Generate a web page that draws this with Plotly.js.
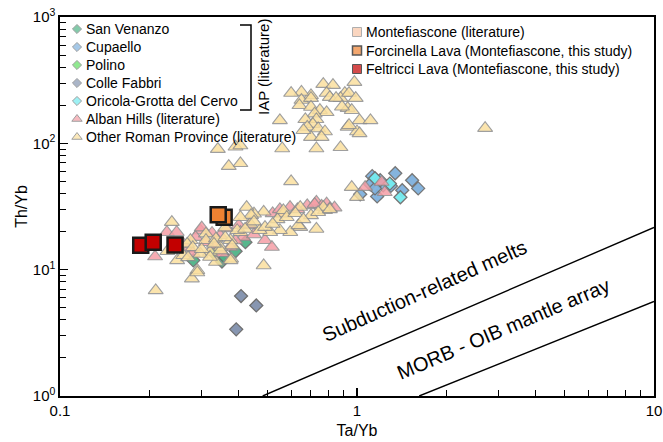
<!DOCTYPE html>
<html>
<head>
<meta charset="utf-8">
<script src="https://cdn.plot.ly/plotly-3.0.1.min.js"></script>
<style>
  html, body { margin: 0; padding: 0; background: #fff; }
  #chart { width: 663px; height: 442px; }
</style>
</head>
<body>
<div id="chart"></div>
<script>
// ---- Ta/Yb vs Th/Yb data ----
// Other Roman Province (literature)
const otherTa = [0.77,0.83,0.91,0.79,0.70,0.65,0.60,0.65,0.70,0.81,0.88,0.94,0.99,0.93,0.96,0.64,0.70,0.75,0.79,0.72,
  0.67,0.73,0.71,0.68,0.74,0.78,0.70,0.66,0.76,0.93,1.00,0.55,0.56,0.73,0.88,0.39,0.405,0.405,0.34,0.37,
  0.60,0.98,1.02,1.11,0.94,1.02,0.85,0.89,2.70,
  0.96,1.0,0.485,0.565,0.644,0.70,0.644,0.596,0.73,0.78,0.55,0.51,0.47,0.485,0.45,0.437,0.425,0.44,0.405,0.635,
  0.238,0.248,0.29,0.278,0.21,0.377,0.335,0.275,0.31,0.347,0.32,0.375,0.405,0.49,0.54,0.565,0.77,0.31,0.347,0.375,
  0.395,0.297,0.32,0.268,0.335,0.29,0.25,0.26,0.28,0.30,0.33,0.36,0.38,0.42,0.36,0.45,0.52,0.58,0.62,0.66,
  0.74,0.81,0.27,0.23];
const otherTh = [294,289,250,250,240,255,250,220,228,232,228,250,228,190,183,200,194,183,176,172,
  155,155,142,135,131,124,112,127,112,135,124,152,91,91,93,94,96,69.5,90,66,
  50,305,152,152,139,120,228,195,132,
  45,37.5,28.7,27.7,31.3,26.9,21.7,19.8,21,29.5,20.5,19.8,20.5,10.8,27.7,23,31.3,27,26,22.4,
  23.8,11.85,9.9,8.5,6.85,12.2,11.5,17.1,19.3,15,13.8,17.1,19.8,21.7,25,29.5,31.3,17.1,14.2,11.85,
  20.5,13.3,12.6,16,17.6,9.5,14.5,13,15,14.5,16,18,15.5,21,21.5,24,23,26,28,25,
  28.5,30,12.5,14];

// Alban Hills (literature)
const albanTa = [0.209,0.229,0.247,0.49,0.517,0.73,0.79,0.81,0.595,0.68,0.52,0.434,0.297,0.286,0.272,0.365,0.374,0.333,0.414,0.346,
  0.30,0.325,0.28,0.39,0.76,0.84,0.63,0.56,1.065,1.21,1.24,0.26,0.31,0.35,0.45,0.40,0.72,0.55];
const albanTh = [12.7,19.8,19.8,17.1,15.1,34.4,33.3,30.5,31.3,32.3,27.9,22.4,20.4,18.1,14.7,21.2,15.1,15.5,18.1,18.7,
  21.5,19.5,13.5,17,32,31,30,28,45,49.4,41,16,16.5,13.5,19,22.5,33,30];

// IAP (literature)
const sanVenanzoTa = [0.421,0.281,0.351,0.39,0.36];
const sanVenanzoTh = [16.5,11.85,11.6,14,12.5];
const cupaelloTa = [1.125,1.345,1.533,1.607,1.42,1.169,1.025,1.225,1.108,1.197,1.30,1.15];
const cupaelloTh = [55,58,51,44,42.5,38,39.5,46.5,47.4,51,46,44];
const polinoTa = [0.33];
const polinoTh = [13.5];
const colleFabbriTa = [0.407,0.458,0.392];
const colleFabbriTh = [6.18,5.21,3.37];
const oricolaTa = [1.15,1.29,1.40];
const oricolaTh = [53,48,37.4];

// Montefiascone, this study
const forcinellaTa = [0.357,0.341];
const forcinellaTh = [26.0,27.2];
const feltricciTa = [0.187,0.206,0.244];
const feltricciTh = [15.6,16.45,15.7];

// Reference array boundaries (end points)
const subductionTa = [0.4815,10];
const subductionTh = [1,21.6];
const morbOibTa = [1.62,10];
const morbOibTh = [1,5.61];

// Legend labels
const leftLabels = ['San Venanzo','Cupaello','Polino','Colle Fabbri','Oricola-Grotta del Cervo','Alban Hills (literature)','Other Roman Province (literature)'];
const rightLabels = ['Montefiascone (literature)','Forcinella Lava (Montefiascone, this study)','Feltricci Lava (Montefiascone, this study)'];

// ---- styles ----
const FONT = '"Liberation Sans", Arial, sans-serif';
const C = {
  sanVenanzo: '#4fb487', cupaello: '#7fb1dd', polino: '#62df62', colleFabbri: '#8796b1',
  oricola: '#74ecf0', alban: '#f59ea6', other: '#fbe09f',
  montLit: '#f8c6a6', forcinella: '#ef8232', feltricci: '#c20000'
};
const leftStyles = [
  {symbol:'diamond', color:C.sanVenanzo}, {symbol:'diamond', color:C.cupaello},
  {symbol:'diamond', color:C.polino}, {symbol:'diamond', color:C.colleFabbri},
  {symbol:'diamond', color:C.oricola}, {symbol:'triangle-up', color:C.alban},
  {symbol:'triangle-up', color:C.other}
];
const rightStyles = [
  {color:C.montLit, line:'#8c8c8c', lw:1},
  {color:C.forcinella, line:'#111', lw:1.5},
  {color:C.feltricci, line:'#111', lw:1}
];

function pts(x, y, symbol, size, color, lineColor, lineWidth, opacity) {
  return {
    x: x, y: y, type: 'scatter', mode: 'markers', showlegend: false, hoverinfo: 'skip',
    marker: {symbol: symbol, size: size, color: color, opacity: opacity,
             line: {color: lineColor, width: lineWidth}}
  };
}
function boundary(x, y) {
  return {x: x, y: y, type: 'scatter', mode: 'lines', showlegend: false, hoverinfo: 'skip',
          line: {color: '#000', width: 1.4}};
}

const data = [
  boundary(subductionTa, subductionTh),
  boundary(morbOibTa, morbOibTh),
  pts(sanVenanzoTa, sanVenanzoTh, 'diamond', 10, C.sanVenanzo, '#6f6f6f', 1.3, 0.95),
  pts(polinoTa, polinoTh, 'diamond', 10, C.polino, '#6f6f6f', 1.3, 0.95),
  pts(colleFabbriTa, colleFabbriTh, 'diamond', 10, C.colleFabbri, '#6f6f6f', 1.3, 1),
  pts(cupaelloTa, cupaelloTh, 'diamond', 10, C.cupaello, '#6f6f6f', 1.3, 0.95),
  pts(oricolaTa, oricolaTh, 'diamond', 10, C.oricola, '#6f6f6f', 1.3, 0.95),
  pts(albanTa, albanTh, 'triangle-up', 13, C.alban, '#8f8f8f', 1.1, 0.85),
  pts(otherTa, otherTh, 'triangle-up', 13, C.other, '#8f8f8f', 1.1, 0.85),
  pts(forcinellaTa, forcinellaTh, 'square', 15, C.forcinella, '#1a1a1a', 2.5, 1),
  pts(feltricciTa, feltricciTh, 'square', 15, C.feltricci, '#1a1a1a', 2.5, 1)
];

// ---- legend drawn on a pixel-unit overlay of the plot area ----
const L = {x: 77, textX: 84, y0: 29, step: 18};
const R = {x: 357, textX: 364, y0: 32, step: 18.5};
const annotations = [];
const legX = [], legY = [], legSym = [], legCol = [], legLine = [], legLW = [], legSize = [];
leftLabels.forEach((t, i) => {
  const y = L.y0 + i * L.step;
  legX.push(L.x); legY.push(y); legSym.push(leftStyles[i].symbol); legCol.push(leftStyles[i].color);
  legLine.push('#777'); legLW.push(1); legSize.push(leftStyles[i].symbol === 'diamond' ? 7 : 9);
  annotations.push({xref:'x2', yref:'y2', x: L.textX, y: y, text: t, showarrow: false,
    xanchor:'left', yanchor:'middle', font:{family: FONT, size: 14, color:'#000'}});
});
rightLabels.forEach((t, i) => {
  const y = R.y0 + i * R.step;
  legX.push(R.x); legY.push(y); legSym.push('square'); legCol.push(rightStyles[i].color);
  legLine.push(rightStyles[i].line); legLW.push(rightStyles[i].lw); legSize.push(9);
  annotations.push({xref:'x2', yref:'y2', x: R.textX, y: y, text: t, showarrow: false,
    xanchor:'left', yanchor:'middle', font:{family: FONT, size: 14, color:'#000'}});
});
data.push({x: legX, y: legY, xaxis:'x2', yaxis:'y2', type:'scatter', mode:'markers',
  showlegend:false, hoverinfo:'skip',
  marker:{symbol: legSym, color: legCol, size: legSize, line:{color: legLine, width: legLW}}});

annotations.push({xref:'x2', yref:'y2', x: 263, y: 67, text:'IAP (literature)', textangle:-90,
  showarrow:false, font:{family: FONT, size: 15, color:'#000'}});
annotations.push({xref:'x2', yref:'y2', x: 424, y: 291, text:'Subduction-related melts', textangle:-24,
  showarrow:false, font:{family: FONT, size: 20, color:'#000'}});
annotations.push({xref:'x2', yref:'y2', x: 503, y: 329, text:'MORB - OIB mantle array', textangle:-23,
  showarrow:false, font:{family: FONT, size: 20, color:'#000'}});

const layout = {
  width: 663, height: 442,
  margin: {l: 60, r: 9, t: 17, b: 46, pad: 0},
  paper_bgcolor: '#fff', plot_bgcolor: '#fff',
  font: {family: FONT, color: '#000'},
  showlegend: false,
  xaxis: {
    type: 'log', range: [-1, 1], showgrid: false, zeroline: false,
    showline: true, mirror: true, linecolor: '#000', linewidth: 1.6,
    ticks: 'inside', ticklen: 8, tickwidth: 1.2, tickcolor: '#000',
    tickmode: 'array', tickvals: [0.1, 1, 10], ticktext: ['0.1', '1', '10'],
    tickfont: {family: FONT, size: 15},
    minor: {ticks: 'inside', ticklen: 6, tickwidth: 1, tickcolor: '#000', dtick: 'D1', showgrid: false},
    title: {text: 'Ta/Yb', font: {family: FONT, size: 16}, standoff: 7},
    automargin: false
  },
  yaxis: {
    type: 'log', range: [0, 3], showgrid: false, zeroline: false,
    showline: true, mirror: true, linecolor: '#000', linewidth: 1.6,
    ticks: 'inside', ticklen: 8, tickwidth: 1.2, tickcolor: '#000',
    tickmode: 'array', tickvals: [1, 10, 100, 1000],
    ticktext: ['10<sup>0</sup>', '10<sup>1</sup>', '10<sup>2</sup>', '10<sup>3</sup>'],
    tickfont: {family: FONT, size: 15},
    minor: {ticks: 'inside', ticklen: 6, tickwidth: 1, tickcolor: '#000', dtick: 'D1', showgrid: false},
    title: {text: 'Th/Yb', font: {family: FONT, size: 16}, standoff: 1},
    automargin: false
  },
  xaxis2: {overlaying: 'x', range: [60, 654], visible: false, fixedrange: true},
  yaxis2: {overlaying: 'y', range: [396, 17], visible: false, fixedrange: true},
  shapes: [{type: 'path', xref: 'x2', yref: 'y2', path: 'M 240 25 H 251 V 110 H 240',
            line: {color: '#000', width: 1.5}}],
  annotations: annotations
};

Plotly.newPlot('chart', data, layout, {displayModeBar: false, staticPlot: true});
</script>
</body>
</html>
